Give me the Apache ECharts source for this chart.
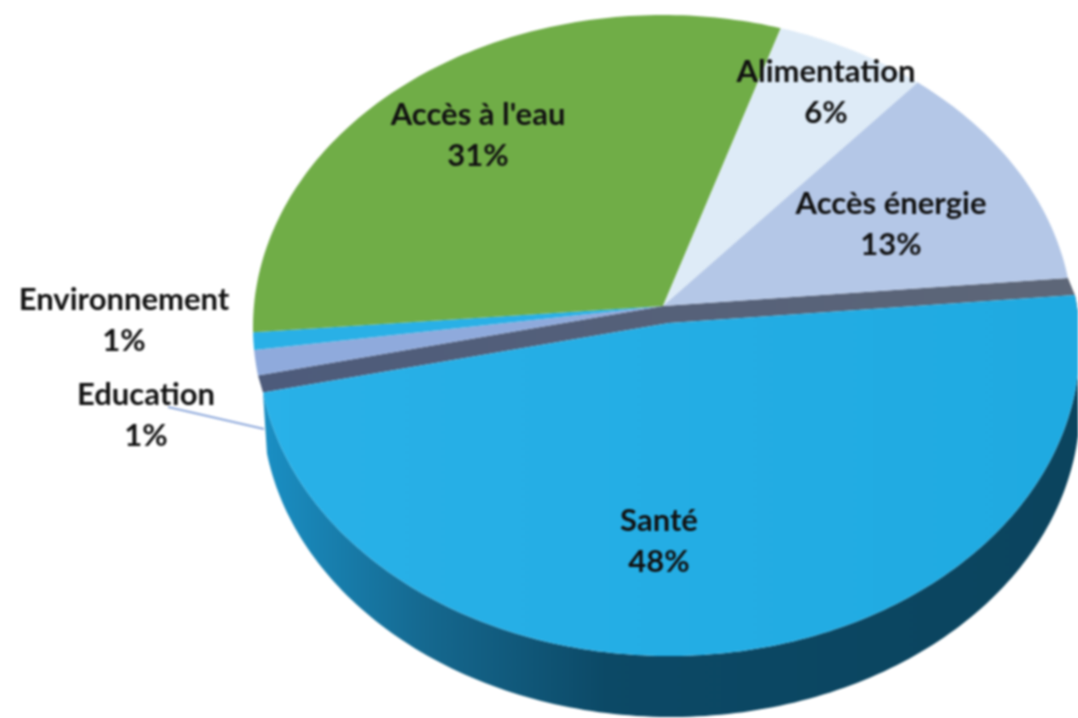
<!DOCTYPE html>
<html>
<head>
<meta charset="utf-8">
<style>
  html, body { margin: 0; background: #fff; overflow: hidden; }
  #chart { width: 1078px; height: 718px; filter: blur(1px); }
</style>
<script src="https://cdn.jsdelivr.net/npm/echarts@6/dist/echarts.min.js"></script>
</head>
<body>
<div id="chart"></div>
<script>
const categories = ['Santé', 'Education', 'Environnement', "Accès à l'eau", 'Alimentation', 'Accès énergie'];
const shares = [47.9, 1.3, 0.9, 31.3, 6.4, 12.2];
const percentLabels = ['48%', '1%', '1%', '31%', '6%', '13%'];
const colors = ['#25aee4', '#8faadc', '#29b0e6', '#70ad47', '#deebf7', '#b4c7e7'];

// label anchors, one per category: [x, y of name line]
const labelPos = [[659, 521], [146, 395], [124, 300], [478, 115], [826, 72], [891, 204]];

// tilted disc: perspective factor and the three ellipses it projects to
const TILT = -0.0675;
const START_ANGLE = -5.2;
const backFace = { cx: 663, cy: 327, rx: 410, ry: 312 };
const healthFace = { cx: 669, cy: 344, rx: 411, ry: 312 };
const healthBase = { cx: 671, cy: 405, rx: 409, ry: 312 };

const project = (face, deg, r) => {
  const a = (deg * Math.PI) / 180;
  const u = r * Math.cos(a);
  const v = r * Math.sin(a);
  const w = 1 + TILT * v;
  return [
    face.cx + (face.rx * u * Math.sqrt(1 - TILT * TILT)) / w,
    face.cy + (face.ry * (v + TILT)) / w,
  ];
};

const arc = (face, from, to) => {
  const pts = [];
  const steps = Math.max(2, Math.ceil(Math.abs(to - from)));
  for (let i = 0; i <= steps; i++) {
    pts.push(project(face, from + ((to - from) * i) / steps, 1));
  }
  return pts;
};

const total = shares.reduce((s, v) => s + v, 0);
const angleAt = (index) => {
  const before = shares.slice(0, index).reduce((s, v) => s + v, 0);
  return START_ANGLE + (before / total) * 360;
};

const renderSlice = (params) => {
  const i = params.dataIndex;
  const from = angleAt(i);
  const to = angleAt(i + 1);
  const face = i === 0 ? healthFace : backFace;
  const top = {
    type: 'polygon',
    shape: { points: [project(face, 0, 0), ...arc(face, from, to)] },
    style: { fill: colors[i] },
  };
  if (i !== 0) {
    return top;
  }
  top.style.fill = new echarts.graphic.LinearGradient(0, 0, 1, 0, [
    { offset: 0, color: '#29b1e8' },
    { offset: 1, color: '#1faae1' },
  ]);
  const wall = {
    type: 'polygon',
    shape: { points: [...arc(healthBase, from, to), ...arc(healthFace, to, from)] },
    style: {
      fill: new echarts.graphic.LinearGradient(0, 0, 1, 0, [
        { offset: 0, color: '#1a8fc4' },
        { offset: 0.2, color: '#15688f' },
        { offset: 0.42, color: '#0c4966' },
        { offset: 1, color: '#0b445e' },
      ]),
    },
  };
  // cut faces of the rest of the pie, seen because Santé is pulled out
  const cut = {
    type: 'polygon',
    shape: {
      points: [
        project(backFace, from, 1),
        project(backFace, 0, 0),
        project(backFace, to, 1),
        project(healthFace, to, 1),
        project(healthFace, 0, 0),
        project(healthFace, from, 1),
      ],
    },
    style: {
      fill: new echarts.graphic.LinearGradient(0, 0, 1, 0, [
        { offset: 0, color: '#4d5b7b' },
        { offset: 1, color: '#5e6778' },
      ]),
    },
  };
  return { type: 'group', children: [wall, cut, top] };
};

const renderLabel = (params) => {
  const i = params.dataIndex;
  const [x, y] = labelPos[i];
  const font = 'bold 31px Lato, sans-serif';
  const line = (text, dy) => ({
    type: 'text',
    style: { text, x, y: y + dy, font, fill: '#111', align: 'center', verticalAlign: 'middle' },
  });
  return {
    type: 'group',
    children: [line(categories[i], 0), line(percentLabels[i], 41)],
  };
};

const chart = echarts.init(document.getElementById('chart'));
chart.setOption({
  animation: false,
  series: [
    {
      type: 'custom',
      coordinateSystem: 'none',
      data: shares,
      renderItem: renderSlice,
      z: 2,
    },
    {
      type: 'custom',
      coordinateSystem: 'none',
      data: shares,
      renderItem: renderLabel,
      z: 4,
    },
  ],
  graphic: [
    {
      type: 'line',
      z: 3,
      shape: { x1: 168, y1: 407, x2: 264, y2: 429 },
      style: { stroke: '#8faadc', lineWidth: 2 },
    },
  ],
});
</script>
</body>
</html>
